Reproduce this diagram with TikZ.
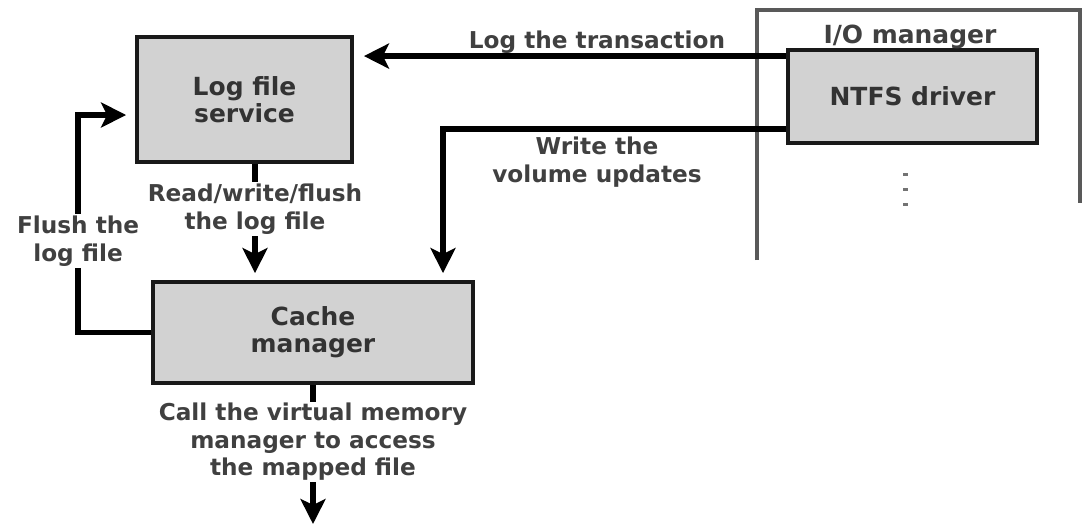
\documentclass[tikz,border=0pt]{standalone}
\usepackage{fontspec}
\setmainfont{DejaVu Sans}
\usetikzlibrary{arrows.meta, positioning}

\begin{document}
\begin{tikzpicture}[
  box/.style={draw=black!90, line width=2.2pt, fill=gray!35, align=center, text=black!80, font=\fontsize{14.2}{15.4}\selectfont\bfseries},
  lbl/.style={align=center, text=black!75, inner sep=1pt, font=\fontsize{13.2}{15.6}\selectfont\bfseries},
  arr/.style={line width=3pt, -{Stealth[length=0.5cm, width=0.5cm, inset=0.12cm]}},
  frame/.style={draw=black!65, line width=2.2pt}]
  \useasboundingbox (0,0) rectangle (21.66,-10.5);
  % Nodes
  \node[box, minimum width=4.3cm, minimum height=2.5cm] (log) at (4.89,-1.99) {Log file\\service};
  \node[box, minimum width=4.98cm, minimum height=1.86cm] (ntfs) at (18.25,-1.93) {NTFS driver};
  \node[box, minimum width=6.4cm, minimum height=2.02cm] (cache) at (6.26,-6.65) {Cache\\manager};
  \node[lbl, font=\fontsize{14.2}{15.4}\selectfont\bfseries] (iomgr) at (18.2,-0.74) {I/O manager};
  \node[lbl] (logtx) at (11.94,-0.84) {Log the transaction};
  \node[lbl] (wrvol) at (11.94,-3.24) {Write the\\volume updates};
  % I/O manager frame
  \coordinate (fra) at (15.14,-5.2);
  \coordinate (frb) at (21.6,-0.2);
  \coordinate (frc) at (21.6,-4.06);
  \draw[frame] (fra) -- (fra |- frb) -- (frb) -- (frc);
  \foreach \y in {-3.46,-3.76,-4.06}
    \fill[black!55] (18.05,\y) rectangle ++(0.1,-0.06);
  % Edges
  \coordinate (tx) at ([yshift=-0.16cm]ntfs.north west);
  \draw[arr, shorten >=0.2cm] (tx) -- (tx -| log.east);
  \coordinate (wv) at ([yshift=0.32cm]ntfs.south west);
  \draw[arr, shorten >=0.14cm] (wv) -| ([xshift=2.6cm]cache.north);
  \coordinate (rw) at ([xshift=0.21cm]log.south);
  \draw[arr, shorten >=0.14cm] (rw) -- node[lbl, fill=white, pos=0.39] (rwf) {Read/write/flush\\the log file} (rw |- cache.north);
  \coordinate (flin) at ([yshift=-0.31cm]log.west);
  \draw[arr, shorten >=0.18cm] (cache.west) -- ++(-1.46,0) coordinate (fl) -- node[lbl, fill=white, pos=0.42] (flush) {Flush the\\log file} (fl |- flin) -- (flin);
  \coordinate (vm) at (6.26,-10.48);
  \draw[arr] (cache.south) -- node[lbl, fill=white, pos=0.41] (callvm) {Call the virtual memory\\manager to access\\the mapped file} (vm);
\end{tikzpicture}
\end{document}
